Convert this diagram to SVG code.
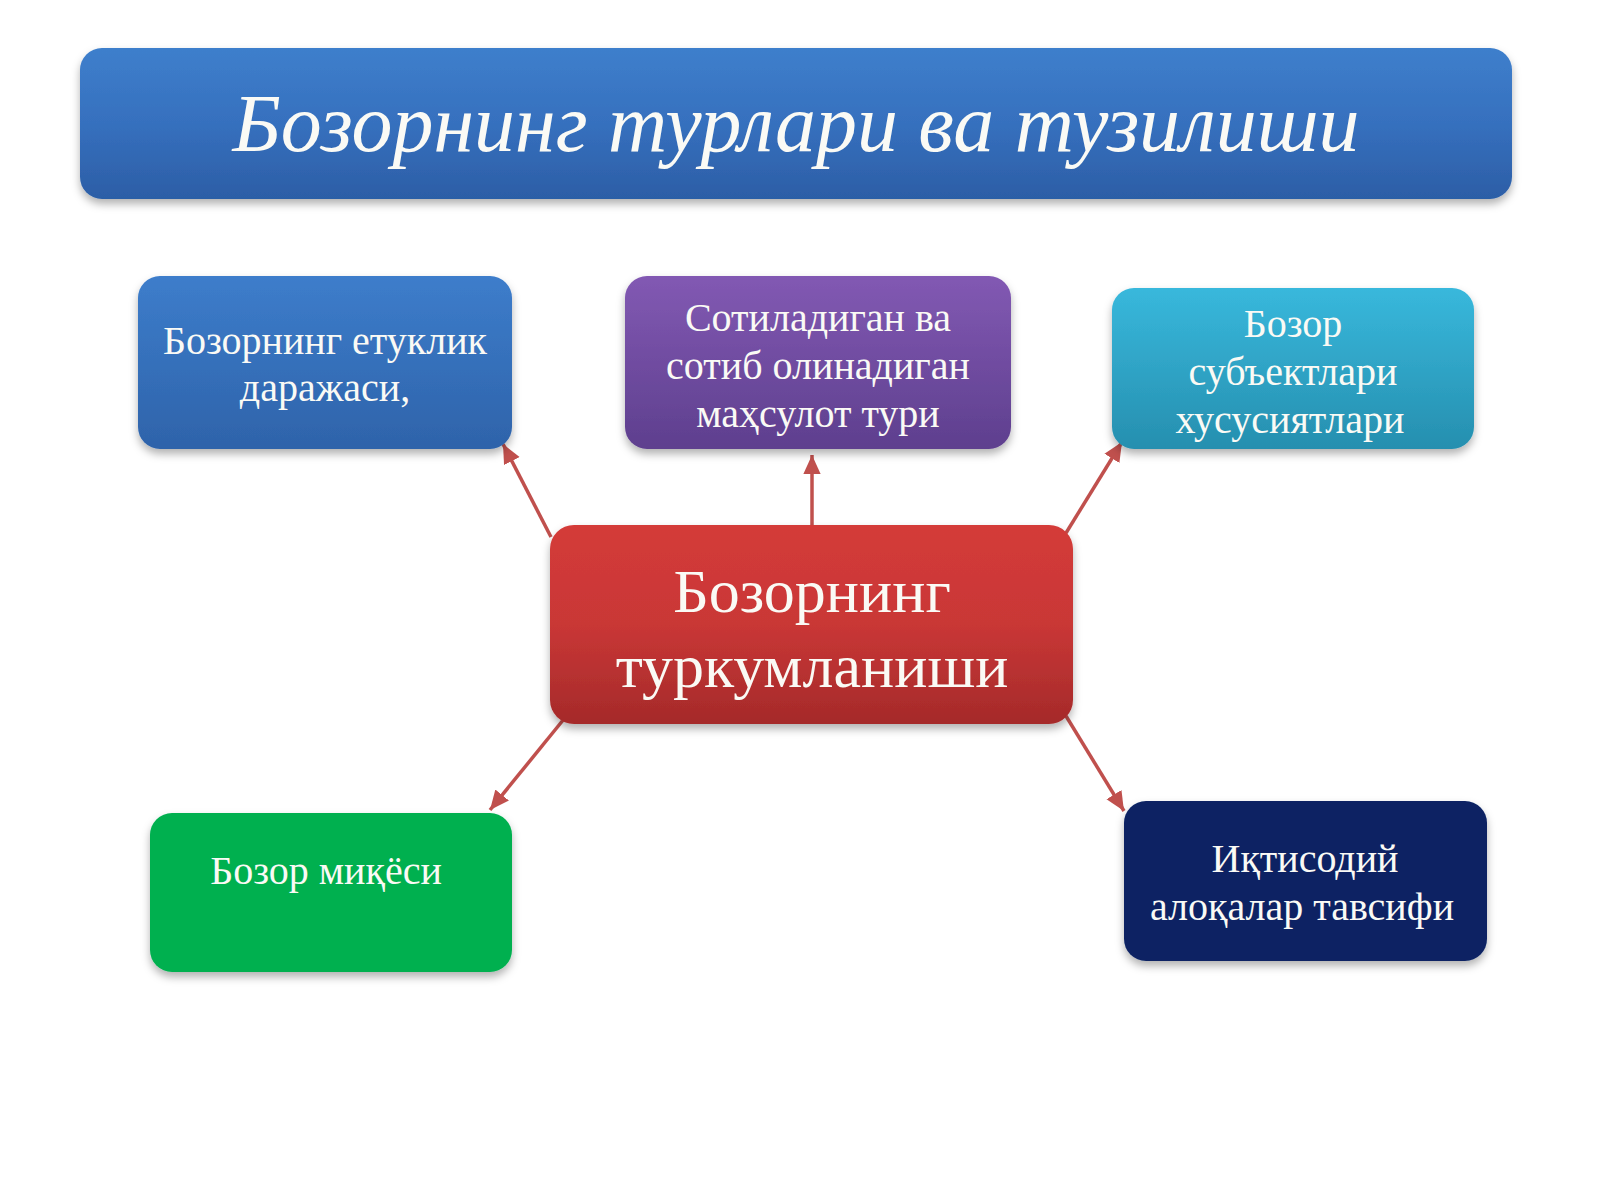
<svg xmlns="http://www.w3.org/2000/svg" width="1600" height="1200" viewBox="0 0 1600 1200">
<defs>
<linearGradient id="gTitle" x1="0" y1="0" x2="0" y2="1"><stop offset="0" stop-color="#3E7FCC"/><stop offset="0.5" stop-color="#3670BE"/><stop offset="1" stop-color="#2C5EA6"/></linearGradient>
<linearGradient id="gBlue" x1="0" y1="0" x2="0" y2="1"><stop offset="0" stop-color="#3D7DCB"/><stop offset="1" stop-color="#2E63AA"/></linearGradient>
<linearGradient id="gPurple" x1="0" y1="0" x2="0" y2="1"><stop offset="0" stop-color="#8259B3"/><stop offset="1" stop-color="#5E3F8E"/></linearGradient>
<linearGradient id="gTeal" x1="0" y1="0" x2="0" y2="1"><stop offset="0" stop-color="#38B8DC"/><stop offset="1" stop-color="#268FAF"/></linearGradient>
<linearGradient id="gRed" x1="0" y1="0" x2="0" y2="1"><stop offset="0" stop-color="#D43B39"/><stop offset="0.5" stop-color="#C93736"/><stop offset="1" stop-color="#A52A2A"/></linearGradient>
<filter id="sh" x="-10%" y="-10%" width="120%" height="130%"><feDropShadow dx="0" dy="5" stdDeviation="4" flood-color="#000" flood-opacity="0.3"/></filter>
<marker id="ah" markerWidth="6" markerHeight="6" refX="5.5" refY="3" orient="auto" markerUnits="strokeWidth"><path d="M0,0.5 L5.5,3 L0,5.5 Z" fill="#C0504D"/></marker>
<style>
.t{font-family:"Liberation Serif","Times New Roman",serif;fill:#FAFAF5;text-anchor:middle}
.s{font-size:40px}
.c{stroke:#C0504D;stroke-width:3.5;fill:none;marker-end:url(#ah)}
</style>
</defs>
<rect width="1600" height="1200" fill="#FFFFFF"/>
<g id="title">
<rect x="80" y="48" width="1432" height="151" rx="22" fill="url(#gTitle)" filter="url(#sh)"/>
<text class="t" x="796" y="151" font-size="82" font-style="italic" textLength="1127" lengthAdjust="spacingAndGlyphs">Бозорнинг турлари ва тузилиши</text>
</g>
<g id="connectors">
<line class="c" x1="551" y1="537" x2="503" y2="444"/>
<line class="c" x1="812" y1="525" x2="812" y2="455"/>
<line class="c" x1="1066" y1="533" x2="1122" y2="442"/>
<line class="c" x1="568" y1="714" x2="490" y2="810"/>
<line class="c" x1="1066" y1="716" x2="1124" y2="811"/>
</g>
<g id="node-etuklik">
<rect x="138" y="276" width="374" height="173" rx="22" fill="url(#gBlue)" filter="url(#sh)"/>
<text class="t s" x="325" y="354">Бозорнинг етуклик</text>
<text class="t s" x="325" y="401">даражаси,</text>
</g>
<g id="node-mahsulot">
<rect x="625" y="276" width="386" height="173" rx="22" fill="url(#gPurple)" filter="url(#sh)"/>
<text class="t s" x="818" y="331">Сотиладиган ва</text>
<text class="t s" x="818" y="379">сотиб олинадиган</text>
<text class="t s" x="818" y="427">маҳсулот тури</text>
</g>
<g id="node-subyekt">
<rect x="1112" y="288" width="362" height="161" rx="22" fill="url(#gTeal)" filter="url(#sh)"/>
<text class="t s" x="1293" y="337">Бозор</text>
<text class="t s" x="1293" y="385">субъектлари</text>
<text class="t s" x="1290" y="433">хусусиятлари</text>
</g>
<g id="node-center">
<rect x="550" y="525" width="523" height="199" rx="24" fill="url(#gRed)" filter="url(#sh)"/>
<text class="t" x="812" y="612" font-size="62">Бозорнинг</text>
<text class="t" x="812" y="687" font-size="62">туркумланиши</text>
</g>
<g id="node-miqyos">
<rect x="150" y="813" width="362" height="159" rx="22" fill="#00B050" filter="url(#sh)"/>
<text class="t s" x="326" y="884">Бозор миқёси</text>
</g>
<g id="node-aloqa">
<rect x="1124" y="801" width="363" height="160" rx="22" fill="#0A2464" filter="url(#sh)"/>
<text class="t s" x="1305" y="872">Иқтисодий</text>
<text class="t s" x="1302" y="920">алоқалар тавсифи</text>
</g>
</svg>
